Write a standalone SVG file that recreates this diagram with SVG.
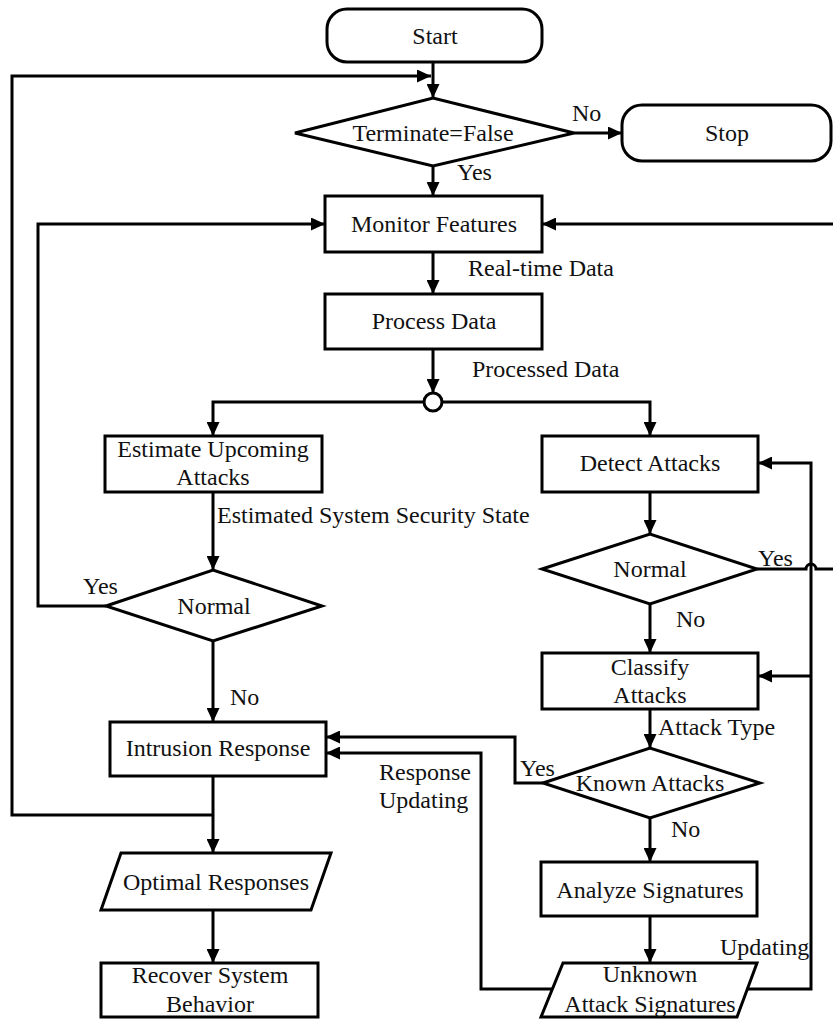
<svg xmlns="http://www.w3.org/2000/svg" width="833" height="1020" viewBox="0 0 833 1020">
<defs>
<marker id="arr" markerUnits="userSpaceOnUse" markerWidth="15" markerHeight="13" refX="14" refY="6.5" orient="auto">
<path d="M0,0 L14,6.5 L0,13 z" fill="#000"/>
</marker>
<style>
.n{fill:#fff;stroke:#000;stroke-width:3}
.t{font-family:"Liberation Serif","Times New Roman",serif;font-size:24px;fill:#111}
.c{text-anchor:middle}
.e{fill:none;stroke:#000;stroke-width:3;marker-end:url(#arr)}
.l{fill:none;stroke:#000;stroke-width:3}
</style>
</defs>
<rect width="833" height="1020" fill="#fff"/>
<g id="connectors">
<path class="e" d="M433,62 V98"/>
<path class="e" d="M213,815 H12 V76 H431"/>
<path class="e" d="M574,133 H622"/>
<path class="e" d="M433,166 V196"/>
<path class="e" d="M433,252 V294"/>
<path class="e" d="M433,349 V393"/>
<path class="e" d="M424,402 H213 V436"/>
<path class="e" d="M442,402 H650 V436"/>
<path class="e" d="M213,492 V570"/>
<path class="e" d="M106,606 H38 V224 H325"/>
<path class="e" d="M213,641 V722"/>
<path class="e" d="M213,776 V853"/>
<path class="e" d="M213,910 V963"/>
<path class="e" d="M650,492 V534"/>
<path class="e" d="M757,569 H806 A5,5 0 0 1 816,569 H836 V224 H542"/>
<path class="e" d="M650,604 V653"/>
<path class="e" d="M650,709 V748"/>
<path class="e" d="M543,783 H515 V737 H326"/>
<path class="e" d="M650,818 V862"/>
<path class="e" d="M650,916 V963"/>
<path class="e" d="M552,989 H481 V753 H326"/>
<path class="e" d="M748,989 H811 V463 H758"/>
<path class="e" d="M811,676 H758"/>
<text class="t" x="572" y="121">No</text>
<text class="t" x="457" y="180">Yes</text>
<text class="t" x="468" y="276">Real-time Data</text>
<text class="t" x="472" y="377">Processed Data</text>
<text class="t" x="217" y="523">Estimated System Security State</text>
<text class="t" x="83" y="594">Yes</text>
<text class="t" x="230" y="705">No</text>
<text class="t" x="758" y="566">Yes</text>
<text class="t" x="676" y="627">No</text>
<text class="t" x="658" y="735">Attack Type</text>
<text class="t" x="520" y="776">Yes</text>
<text class="t" x="379" y="780">Response</text>
<text class="t" x="379" y="808">Updating</text>
<text class="t" x="671" y="837">No</text>
<text class="t" x="720" y="955">Updating</text>
</g>
<g id="start"><rect class="n" x="327" y="9" width="215" height="53" rx="20"/><text class="t c" x="435" y="44">Start</text></g>
<g id="terminate"><polygon class="n" points="295,133 433,98 574,133 433,166"/><text class="t c" x="433" y="141">Terminate=False</text></g>
<g id="stop"><rect class="n" x="622" y="105" width="209" height="56" rx="20"/><text class="t c" x="727" y="141">Stop</text></g>
<g id="monitor"><rect class="n" x="325" y="196" width="217" height="56"/><text class="t c" x="434" y="232">Monitor Features</text></g>
<g id="process"><rect class="n" x="325" y="294" width="217" height="55"/><text class="t c" x="434" y="329">Process Data</text></g>
<g id="junction"><circle class="n" cx="433" cy="402" r="9"/></g>
<g id="estimate"><rect class="n" x="105" y="436" width="217" height="56"/><text class="t c" x="213" y="457">Estimate Upcoming</text><text class="t c" x="213" y="485">Attacks</text></g>
<g id="normal-left"><polygon class="n" points="106,606 213,570 322,606 213,641"/><text class="t c" x="214" y="614">Normal</text></g>
<g id="intrusion"><rect class="n" x="110" y="722" width="216" height="54"/><text class="t c" x="218" y="756">Intrusion Response</text></g>
<g id="optimal"><polygon class="n" points="121,853 331,853 311,910 101,910"/><text class="t c" x="216" y="890">Optimal Responses</text></g>
<g id="recover"><rect class="n" x="101" y="963" width="217" height="54"/><text class="t c" x="210" y="983">Recover System</text><text class="t c" x="210" y="1012">Behavior</text></g>
<g id="detect"><rect class="n" x="542" y="436" width="216" height="56"/><text class="t c" x="650" y="471">Detect Attacks</text></g>
<g id="normal-right"><polygon class="n" points="542,569 650,534 757,569 650,604"/><text class="t c" x="650" y="577">Normal</text></g>
<g id="classify"><rect class="n" x="542" y="653" width="216" height="56"/><text class="t c" x="650" y="675">Classify</text><text class="t c" x="650" y="703">Attacks</text></g>
<g id="known"><polygon class="n" points="543,783 650,748 760,783 650,818"/><text class="t c" x="650" y="791">Known Attacks</text></g>
<g id="analyze"><rect class="n" x="541" y="862" width="216" height="54"/><text class="t c" x="650" y="898">Analyze Signatures</text></g>
<g id="unknown"><polygon class="n" points="563,963 757,963 737,1017 541,1017"/><text class="t c" x="650" y="982">Unknown</text><text class="t c" x="650" y="1012">Attack Signatures</text></g>
</svg>
